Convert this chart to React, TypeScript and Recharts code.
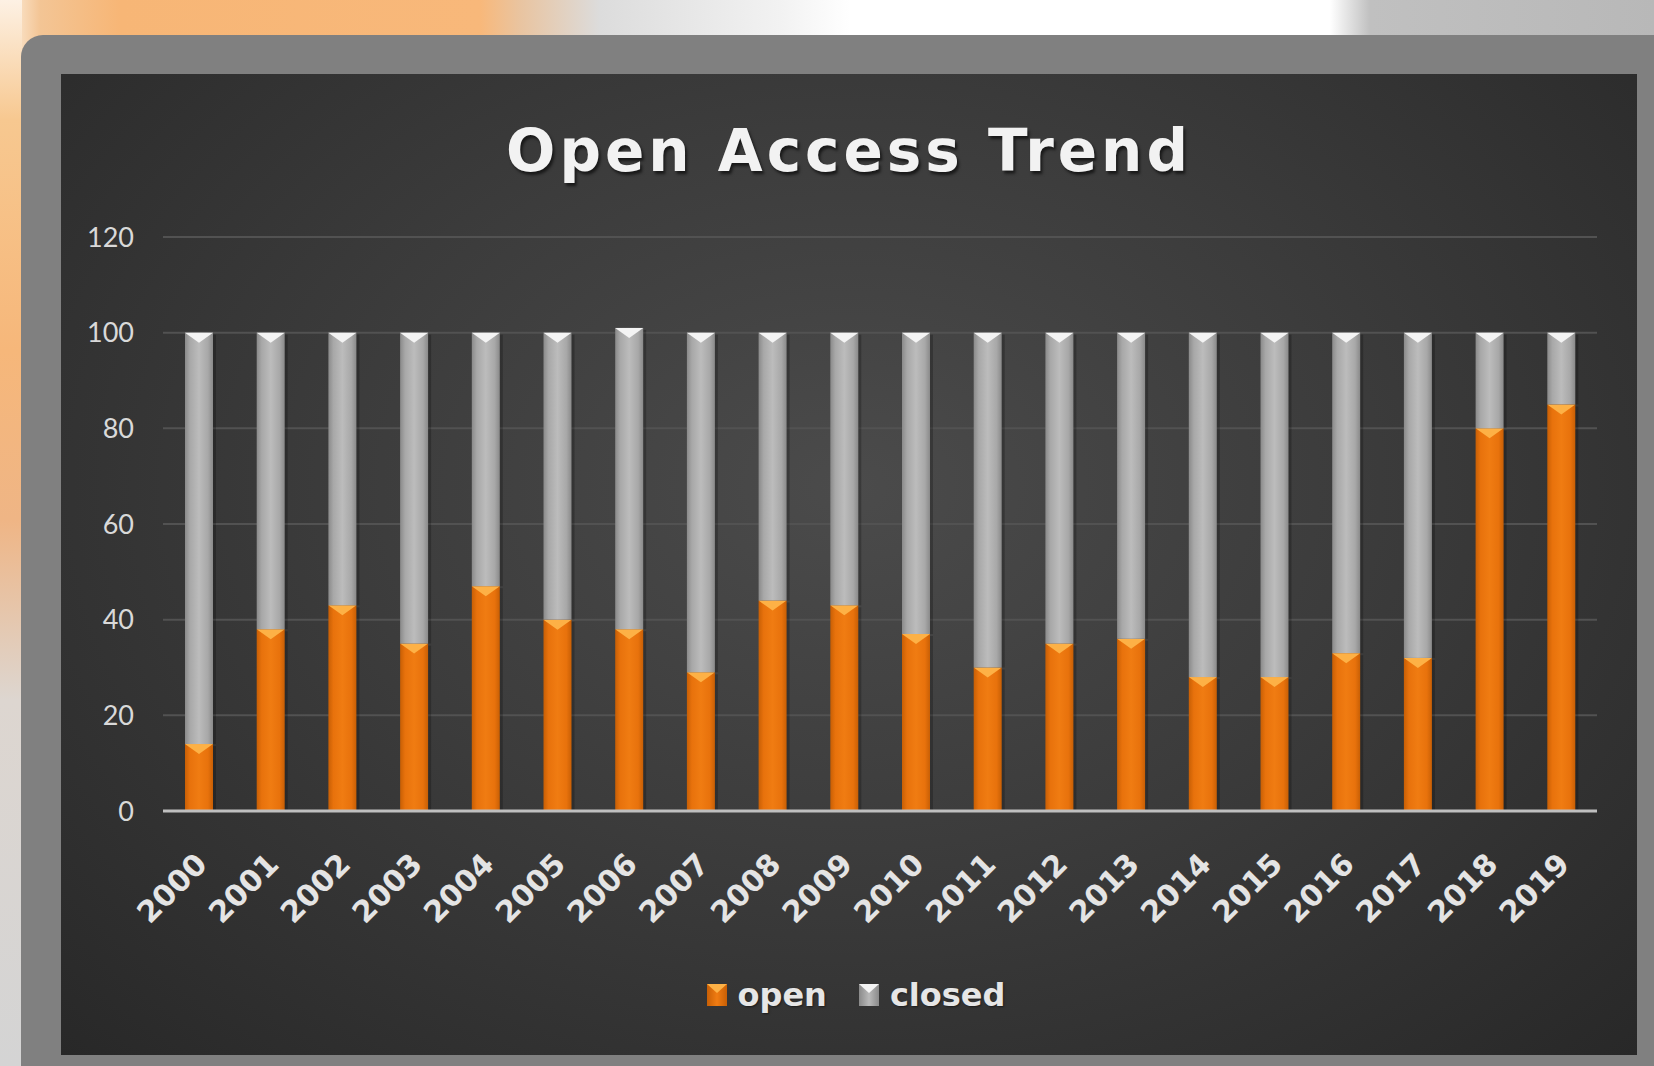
import React from "react";
import { BarChart, Bar, XAxis, YAxis, CartesianGrid, Legend } from "recharts";

const years = [
  "2000", "2001", "2002", "2003", "2004", "2005", "2006", "2007", "2008", "2009",
  "2010", "2011", "2012", "2013", "2014", "2015", "2016", "2017", "2018", "2019",
];
const openShare = [14, 38, 43, 35, 47, 40, 38, 29, 44, 43, 37, 30, 35, 36, 28, 28, 33, 32, 80, 85];
const closedShare = [86, 62, 57, 65, 53, 60, 63, 71, 56, 57, 63, 70, 65, 64, 72, 72, 67, 68, 20, 15];
const yTicks = [0, 20, 40, 60, 80, 100, 120];
const seriesOrder = ["open", "closed"];

const data = years.map((year, i) => ({
  year,
  open: openShare[i],
  closed: closedShare[i],
}));

const seriesLook: Record<string, { grad: string; cap: string; edge: string; mid: string }> = {
  open: { grad: "openGrad", cap: "#fdb146", edge: "#c85f05", mid: "#f07c12" },
  closed: { grad: "closedGrad", cap: "#f4f4f4", edge: "#8a8a8a", mid: "#b9b9b9" },
};

function BevelBar(props: any) {
  const { x, y, width, height, dataKey } = props;
  if (!height || height <= 0) return null;
  const look = seriesLook[dataKey] || seriesLook.open;
  const tip = Math.min(10, height);
  return (
    <g>
      <rect x={x + 3} y={y + 2} width={width} height={height - 2} fill="rgba(0,0,0,0.22)" />
      <rect x={x} y={y} width={width} height={height} fill={`url(#${look.grad})`} />
      <path
        d={`M${x},${y} L${x + width},${y} L${x + width / 2},${y + tip} Z`}
        fill={look.cap}
      />
    </g>
  );
}

function YearTick({ x, y, payload }: any) {
  return (
    <text
      transform={`translate(${x + 10},${y + 55}) rotate(-45)`}
      textAnchor="end"
      fill="#e4e4e4"
      fontFamily="DejaVu Sans"
      fontWeight="bold"
      fontSize={30}
    >
      {payload.value}
    </text>
  );
}

function LegendSwatch({ name }: { name: string }) {
  const look = seriesLook[name];
  return (
    <svg width={20} height={22} style={{ display: "block" }}>
      <defs>
        <linearGradient id={`${look.grad}L`} x1="0" y1="0" x2="1" y2="0">
          <stop offset="0%" stopColor={look.edge} />
          <stop offset="50%" stopColor={look.mid} />
          <stop offset="100%" stopColor={look.edge} />
        </linearGradient>
      </defs>
      <rect x={0} y={0} width={20} height={22} fill={`url(#${look.grad}L)`} />
      <path d="M0,0 L20,0 L10,9 Z" fill={look.cap} />
    </svg>
  );
}

function ChartLegend({ payload }: any) {
  const items = [...(payload || [])].sort(
    (a: any, b: any) => seriesOrder.indexOf(a.value) - seriesOrder.indexOf(b.value)
  );
  return (
    <div
      style={{
        display: "flex",
        justifyContent: "center",
        alignItems: "center",
        gap: 32,
        height: 60,
        paddingLeft: 14,
      }}
    >
      {items.map((p: any) => (
        <div key={p.value} style={{ display: "flex", alignItems: "center", gap: 11 }}>
          <LegendSwatch name={p.value} />
          <span
            style={{
              fontFamily: "DejaVu Sans",
              fontWeight: "bold",
              fontSize: 32,
              color: "#e6e6e6",
              textShadow: "1px 1px 2px rgba(0,0,0,0.5)",
            }}
          >
            {p.value}
          </span>
        </div>
      ))}
    </div>
  );
}

export default function App() {
  return (
    <div
      style={{
        position: "absolute",
        left: 0,
        top: 0,
        width: 1654,
        height: 1066,
        overflow: "hidden",
        background:
          "linear-gradient(90deg, #fff6ea 0px, #f3c595 40px, #f7b676 120px, #f8b87a 480px, #e9c4a0 520px, #dcdcdc 600px, #f2f2f2 780px, #ffffff 850px, #ffffff 1330px, #c0c0c0 1370px, #b8b8b8 1654px)",
      }}
    >
      <div
        style={{
          position: "absolute",
          left: 0,
          top: 0,
          width: 22,
          height: 1066,
          background:
            "linear-gradient(180deg, #fdf1e4 0px, #f7c890 120px, #f6b77a 350px, #efb585 520px, #ddd6d0 700px, #d4d4d4 1066px)",
        }}
      />
      <div
        style={{
          position: "absolute",
          left: 21,
          top: 35,
          right: 0,
          bottom: 0,
          background: "#808080",
          borderTopLeftRadius: 22,
        }}
      />
      <div
        style={{
          position: "absolute",
          left: 61,
          top: 74,
          width: 1576,
          height: 981,
          background:
            "radial-gradient(ellipse at 50% 42%, #4b4b4b 0%, #3c3c3c 45%, #282828 100%)",
        }}
      >
        <div
          style={{
            position: "absolute",
            left: 0,
            top: 48,
            width: 1576,
            textAlign: "center",
            fontFamily: "DejaVu Sans",
            fontWeight: "bold",
            fontSize: 58,
            lineHeight: "58px",
            letterSpacing: 4,
            color: "#f2f2f2",
            textShadow: "2px 3px 3px rgba(0,0,0,0.6)",
          }}
        >
          Open Access Trend
        </div>
        <div style={{ position: "absolute", left: 0, top: 0 }}>
          <BarChart
            width={1576}
            height={981}
            data={data}
            margin={{ top: 163, right: 40, bottom: 30, left: 0 }}
            barSize={28}
          >
            <defs>
              <linearGradient id="openGrad" x1="0" y1="0" x2="1" y2="0">
                <stop offset="0%" stopColor="#c85f05" />
                <stop offset="18%" stopColor="#e8720c" />
                <stop offset="50%" stopColor="#f07c12" />
                <stop offset="82%" stopColor="#e8720c" />
                <stop offset="100%" stopColor="#c85f05" />
              </linearGradient>
              <linearGradient id="closedGrad" x1="0" y1="0" x2="1" y2="0">
                <stop offset="0%" stopColor="#8a8a8a" />
                <stop offset="18%" stopColor="#a8a8a8" />
                <stop offset="50%" stopColor="#bcbcbc" />
                <stop offset="82%" stopColor="#a8a8a8" />
                <stop offset="100%" stopColor="#8a8a8a" />
              </linearGradient>
            </defs>
            <CartesianGrid vertical={false} stroke="#525252" strokeWidth={2} />
            <XAxis
              dataKey="year"
              interval={0}
              height={154}
              tickSize={0}
              tickMargin={0}
              tick={<YearTick />}
              axisLine={{ stroke: "#bfbfbf", strokeWidth: 3 }}
              tickLine={false}
            />
            <YAxis
              width={102}
              domain={[0, 120]}
              ticks={yTicks}
              tickSize={0}
              tickMargin={29}
              axisLine={false}
              tickLine={false}
              tick={{ fill: "#d9d9d9", fontSize: 27, fontFamily: "Lato" }}
            />
            <Legend
              verticalAlign="bottom"
              height={60}
              itemSorter={null}
              wrapperStyle={{ left: 0, width: 1576 }}
              content={<ChartLegend />}
            />
            <Bar
              dataKey="open"
              name="open"
              stackId="a"
              fill="#ec750f"
              shape={<BevelBar />}
              isAnimationActive={false}
            />
            <Bar
              dataKey="closed"
              name="closed"
              stackId="a"
              fill="#a8a8a8"
              shape={<BevelBar />}
              isAnimationActive={false}
            />
          </BarChart>
        </div>
      </div>
    </div>
  );
}
